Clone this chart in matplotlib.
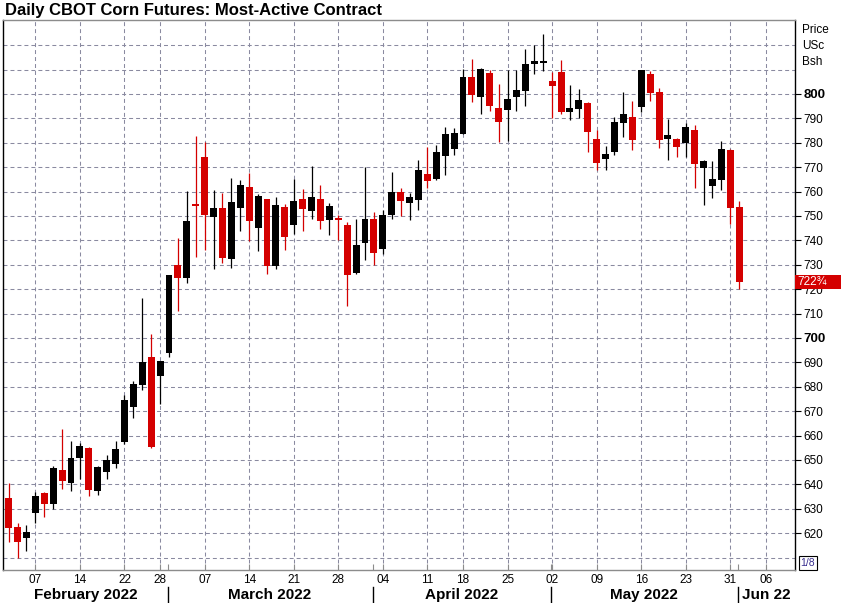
import matplotlib
matplotlib.use('Agg')
import matplotlib.pyplot as plt
import matplotlib.transforms as mtransforms
from matplotlib.patches import Rectangle
import numpy as np
import pandas as pd

plt.rcParams['font.family'] = ['Liberation Sans', 'DejaVu Sans']

# daily OHLC, cents per bushel (Feb 2 .. Jun 1 2022)
dates = ['2022-02-02', '2022-02-03', '2022-02-04', '2022-02-07', '2022-02-08', '2022-02-09',
         '2022-02-10', '2022-02-11', '2022-02-14', '2022-02-15', '2022-02-16', '2022-02-17',
         '2022-02-18', '2022-02-22', '2022-02-23', '2022-02-24', '2022-02-25', '2022-02-28',
         '2022-03-01', '2022-03-02', '2022-03-03', '2022-03-04', '2022-03-07', '2022-03-08',
         '2022-03-09', '2022-03-10', '2022-03-11', '2022-03-14', '2022-03-15', '2022-03-16',
         '2022-03-17', '2022-03-18', '2022-03-21', '2022-03-22', '2022-03-23', '2022-03-24',
         '2022-03-25', '2022-03-28', '2022-03-29', '2022-03-30', '2022-03-31', '2022-04-01',
         '2022-04-04', '2022-04-05', '2022-04-06', '2022-04-07', '2022-04-08', '2022-04-11',
         '2022-04-12', '2022-04-13', '2022-04-14', '2022-04-18', '2022-04-19', '2022-04-20',
         '2022-04-21', '2022-04-22', '2022-04-25', '2022-04-26', '2022-04-27', '2022-04-28',
         '2022-04-29', '2022-05-02', '2022-05-03', '2022-05-04', '2022-05-05', '2022-05-06',
         '2022-05-09', '2022-05-10', '2022-05-11', '2022-05-12', '2022-05-13', '2022-05-16',
         '2022-05-17', '2022-05-18', '2022-05-19', '2022-05-20', '2022-05-23', '2022-05-24',
         '2022-05-25', '2022-05-26', '2022-05-27', '2022-05-31', '2022-06-01']
opens = [634.4, 622.7, 618.2, 628.4, 636.5, 632.1, 645.9, 640.7, 650.9, 654.9, 637.4, 645.2,
         648.5, 657.4, 671.8, 680.9, 692.2, 684.6, 694.0, 729.9, 724.7, 755.0, 774.2, 749.7,
         753.3, 732.5, 753.3, 761.9, 745.1, 757.0, 729.6, 753.7, 746.3, 757.0, 752.0, 757.0,
         748.4, 749.2, 746.3, 726.6, 738.9, 748.8, 736.5, 750.5, 759.8, 755.5, 756.7, 767.2,
         765.3, 774.7, 777.6, 783.7, 807.0, 798.9, 808.6, 794.3, 793.4, 798.8, 801.2, 812.3,
         812.7, 805.3, 809.0, 792.6, 793.9, 796.3, 781.6, 773.4, 776.2, 788.1, 790.6, 794.7,
         808.2, 800.8, 781.6, 781.6, 779.9, 785.2, 769.7, 762.3, 764.8, 777.0, 753.7]
highs = [640.7, 624.1, 623.4, 637.0, 637.0, 647.5, 662.7, 657.8, 656.8, 655.4, 647.5, 652.2,
         657.8, 676.6, 682.4, 716.3, 701.6, 690.6, 725.8, 741.0, 760.2, 782.8, 780.3, 760.7,
         759.4, 765.6, 764.8, 767.6, 759.0, 757.0, 757.8, 754.9, 765.2, 761.1, 770.5, 762.7,
         755.3, 750.4, 747.5, 748.8, 770.1, 751.6, 752.5, 768.0, 761.5, 759.4, 773.0, 778.3,
         779.1, 786.5, 786.1, 810.2, 814.3, 810.7, 809.8, 804.1, 809.8, 809.8, 818.4, 820.1,
         824.6, 809.0, 813.9, 803.7, 802.0, 796.7, 785.2, 778.7, 790.6, 800.8, 797.1, 809.8,
         809.4, 802.5, 789.8, 782.0, 788.1, 787.3, 772.9, 772.5, 780.7, 777.5, 756.1]
lows = [616.5, 610.0, 612.8, 624.3, 626.8, 629.9, 638.1, 637.3, 642.1, 635.2, 635.7, 642.2,
        646.5, 656.5, 667.3, 678.8, 655.0, 672.9, 692.2, 711.1, 722.5, 733.3, 736.1, 728.4,
        730.9, 728.8, 743.9, 739.8, 735.7, 726.2, 728.4, 736.1, 742.4, 743.9, 748.8, 744.7,
        742.2, 740.2, 713.1, 726.2, 732.0, 729.9, 734.4, 748.9, 750.0, 748.5, 752.6, 761.6,
        764.9, 766.9, 775.1, 783.7, 796.8, 791.8, 793.0, 780.3, 780.7, 793.0, 795.1, 808.2,
        809.4, 790.2, 791.8, 789.3, 790.2, 776.2, 768.9, 768.9, 775.0, 782.4, 777.0, 792.6,
        797.1, 777.9, 772.9, 774.2, 774.2, 761.5, 754.5, 757.4, 760.7, 746.7, 720.1]
closes = [622.3, 616.5, 620.5, 635.2, 632.1, 646.7, 641.5, 650.8, 655.7, 637.8, 647.1, 649.9,
          654.5, 674.6, 681.1, 690.2, 655.5, 690.6, 725.8, 724.7, 748.0, 754.2, 750.4, 753.3,
          732.9, 755.7, 762.7, 748.0, 758.2, 729.6, 754.5, 741.5, 756.1, 752.9, 757.8, 748.0,
          754.1, 748.4, 725.8, 738.1, 748.8, 734.8, 750.4, 759.8, 756.3, 757.8, 768.9, 764.5,
          776.2, 783.6, 784.0, 807.0, 799.7, 810.2, 795.1, 788.5, 798.0, 801.6, 812.3, 813.5,
          813.5, 803.3, 792.6, 794.3, 797.5, 784.4, 771.7, 775.4, 788.5, 791.8, 781.1, 809.8,
          800.4, 781.1, 783.2, 778.3, 786.5, 771.4, 772.5, 765.2, 777.5, 753.3, 722.75]

holidays = ['2022-02-21', '2022-04-15', '2022-05-30']
month_labels = ['February 2022', 'March 2022', 'April 2022', 'May 2022', 'Jun 22']
price_ticks = list(range(620, 801, 10))
grid_prices = list(range(610, 821, 10))
bold_ticks = [700, 800]
last_label = '722¾'

red = '#d40000'
gridc = '#8a8aa0'

# trading-day axis (weekends and holidays skipped), runs a week past the data
axis_days = pd.bdate_range('2022-02-02', '2022-06-09')
axis_days = axis_days[~axis_days.isin(pd.to_datetime(holidays))]
week_starts = [i for i in range(1, len(axis_days)) if axis_days[i].isocalendar()[1] != axis_days[i - 1].isocalendar()[1]]
month_starts = [i for i in range(1, len(axis_days)) if axis_days[i].month != axis_days[i - 1].month]

o = np.array(opens)
h = np.array(highs)
l = np.array(lows)
c = np.array(closes)
x = np.arange(len(dates))
col = np.where(c >= o, 'black', red)

fig = plt.figure(figsize=(8.41, 6.03), dpi=100)
ax = fig.add_axes([3 / 841, 1 - 570 / 603, 792 / 841, 550 / 603])

xmin, xmax = -0.63, 88.26
ymin, ymax = 604.9, 830.3
ax.set_xlim(xmin, xmax)
ax.set_ylim(ymin, ymax)

for p in grid_prices:
    ax.axhline(p, color=gridc, lw=0.75, ls=(0, (3.8, 2.9)), zorder=0)
for w in week_starts:
    ax.axvline(w, color=gridc, lw=0.75, ls=(0, (3.8, 2.9)), zorder=0)

ax.vlines(x, l, h, colors=col, lw=0.9, zorder=2)
body = np.maximum(np.abs(c - o), 0.45)
ax.bar(x, body, bottom=np.minimum(o, c), width=0.78, color=col, lw=0, zorder=3)

# frame
for s in ['left', 'right']:
    ax.spines[s].set_color('black')
    ax.spines[s].set_linewidth(1.0)
for s in ['top', 'bottom']:
    ax.spines[s].set_color('#8c8c8c')
    ax.spines[s].set_linewidth(1.0)

# right price axis
ax.yaxis.tick_right()
ax.set_yticks(price_ticks)
ax.set_yticklabels([str(p) for p in price_ticks])
ax.tick_params(axis='y', direction='out', length=4, width=0.8, pad=2, labelsize=8.5)
for lab, p in zip(ax.get_yticklabels(), price_ticks):
    if p in bold_ticks:
        lab.set_fontweight('bold')
        lab.set_fontsize(9.5)

# bottom date axis
ax.set_xticks(week_starts)
ax.set_xticklabels([axis_days[i].strftime('%d') for i in week_starts],
                   family=['Liberation Sans Narrow', 'Liberation Sans'])
ax.set_xticks([m - 0.15 for m in month_starts], minor=True)
ax.tick_params(axis='x', which='both', direction='in', length=4, width=0.8,
               color='#8c8c8c', pad=3, labelsize=8.5)

trans = mtransforms.blended_transform_factory(ax.transData, ax.transAxes)
edges = [xmin] + [m - 0.15 for m in month_starts] + [xmax]
for k, name in enumerate(month_labels):
    ax.text((edges[k] + edges[k + 1]) / 2, -0.046, name, transform=trans,
            ha='center', va='center', fontsize=11, fontweight='bold',
            family=['Liberation Sans Narrow', 'Liberation Sans'])
for m in month_starts:
    ax.plot([m - 0.15, m - 0.15], [-0.03, -0.062], transform=trans, color='black',
            lw=1.0, clip_on=False)

# texts
fig.text(5 / 841, 1 - 10 / 603, 'Daily CBOT Corn Futures: Most-Active Contract',
         fontsize=12, fontweight='bold', ha='left', va='center')
for t, yy in zip(['Price', 'USc', 'Bsh'], [30, 46, 62]):
    fig.text(802 / 841, 1 - yy / 603, t, fontsize=8.5, ha='left', va='center')

# last price box
ylast = ax.transData.transform((0, closes[-1]))[1] / fig.bbox.height
fig.patches.append(Rectangle((795 / 841, ylast - 7 / 603), 46 / 841, 14 / 603,
                             transform=fig.transFigure, facecolor=red, edgecolor='none'))
fig.text(797 / 841, ylast, last_label, color='white', fontsize=8.5, ha='left', va='center')

fig.text(808 / 841, 1 - 563 / 603, '1/8', color='#3a2f8f', fontsize=7.5, ha='center', va='center',
         bbox=dict(boxstyle='square,pad=0.15', facecolor='white', edgecolor='black', lw=0.8))

fig.savefig('out.png', dpi=100)
